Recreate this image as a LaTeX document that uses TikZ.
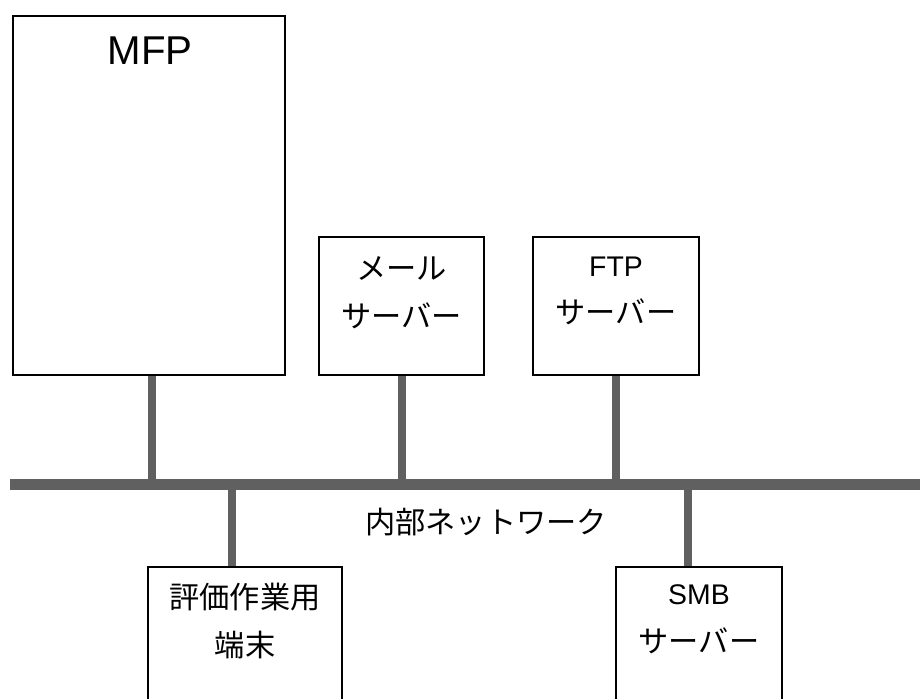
\documentclass[tikz,border=0pt]{standalone}
\usepackage{fontspec}
\setmainfont{Liberation Sans}
\newfontfamily\jpfont{Noto Sans CJK JP}
\usetikzlibrary{calc}
\definecolor{netgray}{RGB}{96,96,96}
\tikzset{
    device box/.style={draw,line width=1.1pt,fill=white,inner sep=0pt},
    link/.style={netgray,line width=0.2cm},
    bus line/.style={netgray,line width=0.29cm},
    jp label/.style={font=\jpfont\fontsize{21.5}{34}\selectfont,align=center,inner sep=0pt},
}
\newcommand{\lat}[1]{{\fontsize{20.2}{34}\rmfamily #1}}
\begin{document}
\begin{tikzpicture}[x=0.025cm,y=-0.025cm]
        \useasboundingbox (0,0) rectangle (920,698);
        \clip (0,0) rectangle (920,698);
        % boxes (coordinates in pixels of the sheet)
        \node[device box,minimum width=6.8cm,minimum height=8.975cm] (mfp) at (149,195.5) {};
        \node[device box,minimum width=4.125cm,minimum height=3.45cm] (mail) at (401.5,306) {};
        \node[device box,minimum width=4.15cm,minimum height=3.45cm] (ftp) at (616,306) {};
        \node[device box,minimum width=4.85cm,minimum height=5cm] (term) at (245,667) {};
        \node[device box,minimum width=4.15cm,minimum height=5cm] (smb) at (699,667) {};
        \node[inner sep=0pt,font=\fontsize{28.6}{30}\selectfont] (mfptext) at (150,51) {MFP};
        \node[jp label] (mailtext) at (mail.center |- 0,293) {メール\\サーバー};
        \node[jp label] (ftptext) at (ftp.center |- 0,291) {\lat{FTP}\\サーバー};
        \node[jp label] (termtext) at (term.center |- 0,621) {評価作業用\\端末};
        \node[jp label] (smbtext) at (smb.center |- 0,619) {\lat{SMB}\\サーバー};
        % the bus
        \coordinate (busL) at (10,484.5);
        \coordinate (busR) at (920,484.5);
        \draw[bus line] (busL) -- (busR);
        \node[jp label] (netname) at (486,522) {内部ネットワーク};
        \draw[link] ([xshift=0.075cm]mfp.south) -- ([xshift=0.075cm]mfp.south |- busL);
        \draw[link] (mail.south) -- (mail.south |- busL);
        \draw[link] (ftp.south) -- (ftp.south |- busL);
        \draw[link] ([xshift=-0.325cm]term.north) -- ([xshift=-0.325cm]term.north |- busL);
        \draw[link] ([xshift=-0.275cm]smb.north) -- ([xshift=-0.275cm]smb.north |- busL);
    \end{tikzpicture}
\end{document}
